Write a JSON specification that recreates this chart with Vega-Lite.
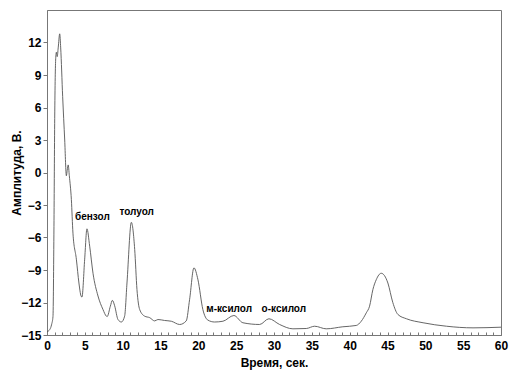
{
  "$schema": "https://vega.github.io/schema/vega-lite/v6.json",
  "width": 454,
  "height": 325,
  "autosize": "none",
  "padding": {"left": 47, "top": 10, "right": 15, "bottom": 43},
  "background": "white",
  "config": {
    "view": {"stroke": "#777", "strokeWidth": 1},
    "font": "Liberation Sans",
    "axis": {"labelOverlap": false, "labelFlush": false, "grid": false}
  },
  "datasets": {
    "curve": [
      {"t": 0, "a": -14.7}, {"t": 0.36, "a": -14.5}, {"t": 0.62, "a": -14.0}, {"t": 0.79, "a": -13.3},
      {"t": 0.92, "a": -5}, {"t": 1.02, "a": 5}, {"t": 1.15, "a": 10.5}, {"t": 1.24, "a": 11.1},
      {"t": 1.35, "a": 10.7}, {"t": 1.48, "a": 11.5}, {"t": 1.68, "a": 12.8}, {"t": 1.81, "a": 11.5},
      {"t": 2.07, "a": 7}, {"t": 2.34, "a": 3}, {"t": 2.56, "a": -0.3}, {"t": 2.67, "a": 0.2},
      {"t": 2.8, "a": 0.7}, {"t": 2.95, "a": -0.3}, {"t": 3.22, "a": -2.5}, {"t": 3.43, "a": -5.6},
      {"t": 3.88, "a": -8.0}, {"t": 4.22, "a": -10.2}, {"t": 4.5, "a": -11.4}, {"t": 4.62, "a": -11.5},
      {"t": 4.98, "a": -8.0}, {"t": 5.28, "a": -5.2}, {"t": 5.64, "a": -6.8}, {"t": 6.08, "a": -9.3},
      {"t": 6.74, "a": -11.4}, {"t": 7.4, "a": -12.65}, {"t": 7.84, "a": -13.26}, {"t": 7.95, "a": -13.3},
      {"t": 8.37, "a": -12.35}, {"t": 8.64, "a": -11.8}, {"t": 8.94, "a": -12.3}, {"t": 9.38, "a": -13.57},
      {"t": 9.83, "a": -13.8}, {"t": 10.26, "a": -13.26}, {"t": 10.57, "a": -10.2}, {"t": 11.15, "a": -4.6},
      {"t": 11.59, "a": -7.1}, {"t": 11.89, "a": -10.8}, {"t": 12.25, "a": -12.65}, {"t": 12.9, "a": -13.26},
      {"t": 13.57, "a": -13.4}, {"t": 14.23, "a": -13.7}, {"t": 14.66, "a": -13.57}, {"t": 15.54, "a": -13.66},
      {"t": 16.43, "a": -13.73}, {"t": 17.53, "a": -14.03}, {"t": 18.4, "a": -13.7}, {"t": 18.85, "a": -11.7},
      {"t": 19.42, "a": -8.8}, {"t": 19.95, "a": -9.9}, {"t": 20.6, "a": -12.65}, {"t": 21.27, "a": -13.63},
      {"t": 22.15, "a": -13.8}, {"t": 23.25, "a": -13.73}, {"t": 24.7, "a": -13.2}, {"t": 25.89, "a": -13.87},
      {"t": 28.1, "a": -14.03}, {"t": 29.33, "a": -13.5}, {"t": 30.74, "a": -14.03}, {"t": 32.5, "a": -14.43},
      {"t": 34.27, "a": -14.4}, {"t": 35.37, "a": -14.19}, {"t": 36.9, "a": -14.43}, {"t": 39.1, "a": -14.24},
      {"t": 40.87, "a": -14.12}, {"t": 41.53, "a": -13.73}, {"t": 42.2, "a": -12.95}, {"t": 42.63, "a": -12.34},
      {"t": 43.07, "a": -10.8}, {"t": 43.51, "a": -9.9}, {"t": 44.17, "a": -9.3}, {"t": 45.05, "a": -10.2},
      {"t": 45.7, "a": -12.0}, {"t": 46.37, "a": -13.1}, {"t": 47.5, "a": -13.5}, {"t": 49.7, "a": -13.87},
      {"t": 52.8, "a": -14.19}, {"t": 56.3, "a": -14.34}, {"t": 60, "a": -14.28}
    ],
    "labels": [
      {"t": 6.0, "a": -4.15, "name": "бензол"},
      {"t": 11.85, "a": -3.6, "name": "толуол"},
      {"t": 24.07, "a": -12.6, "name": "м-ксилол"},
      {"t": 31.3, "a": -12.6, "name": "о-ксилол"}
    ]
  },
  "encoding": {
    "x": {
      "field": "t", "type": "quantitative",
      "scale": {"domain": [0, 60], "nice": false, "zero": false},
      "axis": {
        "title": "Время, сек.",
        "titleFont": "Liberation Sans", "titleFontSize": 12, "titleFontWeight": "bold", "titleColor": "black",
        "titlePadding": 6,
        "values": [0,1,2,3,4,5,6,7,8,9,10,11,12,13,14,15,16,17,18,19,20,21,22,23,24,25,26,27,28,29,30,31,32,33,34,35,36,37,38,39,40,41,42,43,44,45,46,47,48,49,50,51,52,53,54,55,56,57,58,59,60],
        "labelExpr": "datum.value % 5 === 0 ? datum.label : ''",
        "labelOverlap": false,
        "labelFont": "Liberation Sans", "labelFontSize": 12, "labelFontWeight": "bold", "labelColor": "black",
        "labelPadding": 8,
        "tickSize": -3, "tickColor": "#777", "domainColor": "#777", "grid": false
      }
    },
    "y": {
      "field": "a", "type": "quantitative",
      "scale": {"domain": [-15, 15], "nice": false, "zero": false},
      "axis": {
        "title": "Амплитуда, В.",
        "titleFont": "Liberation Sans", "titleFontSize": 12, "titleFontWeight": "bold", "titleColor": "black",
        "titleX": -31,
        "titleBaseline": "middle",
        "values": [-15, -12, -9, -6, -3, 0, 3, 6, 9, 12],
        "labelOverlap": false,
        "labelFont": "Liberation Sans", "labelFontSize": 12, "labelFontWeight": "bold", "labelColor": "black",
        "labelPadding": 2,
        "tickSize": 4, "tickColor": "#777", "domainColor": "#777", "grid": false
      }
    }
  },
  "layer": [
    {
      "data": {"name": "curve"},
      "mark": {"type": "line", "color": "#555", "strokeWidth": 0.9, "interpolate": "monotone"}
    },
    {
      "data": {"name": "labels"},
      "mark": {"type": "text", "font": "Liberation Sans", "fontSize": 10, "fontWeight": "bold", "color": "black", "align": "center", "baseline": "middle"},
      "encoding": {
        "text": {"field": "name"}
      }
    }
  ]
}
